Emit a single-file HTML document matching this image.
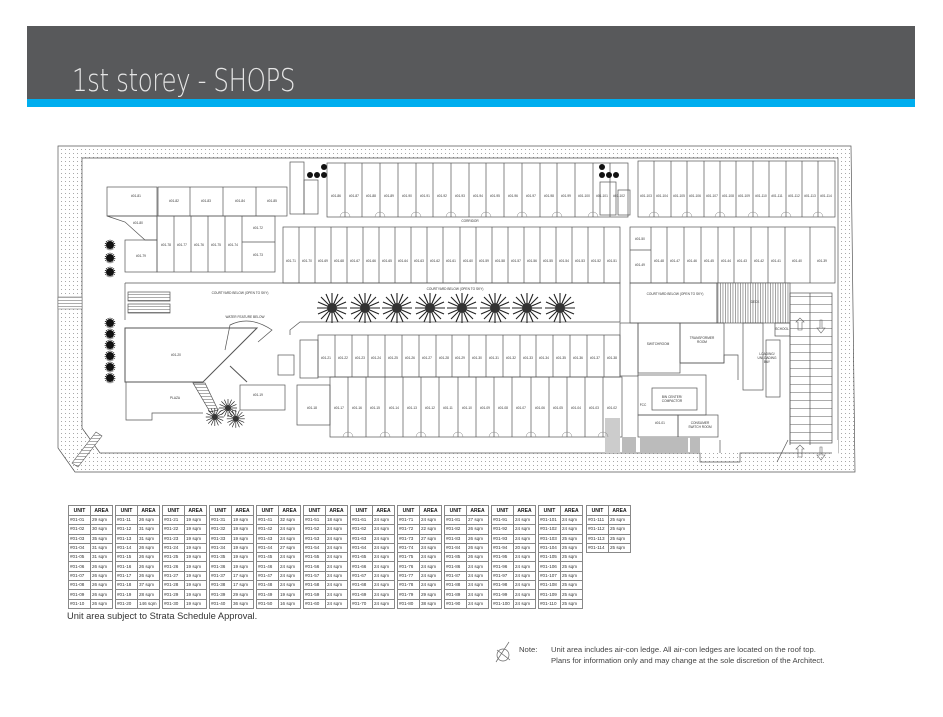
<!DOCTYPE html>
<html><head><meta charset="utf-8">
<style>
html,body{margin:0;padding:0;background:#fff;}
body{width:943px;height:717px;position:relative;overflow:hidden;font-family:"Liberation Sans",sans-serif;}
#hdr{position:absolute;left:27px;top:26px;width:888px;height:73px;background:#58595b;}
#blue{position:absolute;left:27px;top:99px;width:888px;height:8px;background:#00aeef;}
#title{position:absolute;left:72px;top:63px;color:#e6e6e6;font-size:31px;letter-spacing:-0.5px;font-family:"DejaVu Sans","Liberation Sans",sans-serif;transform:scaleX(0.79);transform-origin:left;font-weight:200;white-space:nowrap;}
table.t{position:absolute;top:505px;border-collapse:collapse;font-size:4.6px;color:#333;}
table.t td{border:0.6px solid #888;height:8.3px;padding:0 1px;width:19px;white-space:nowrap;line-height:8px;}
table.t tr:first-child td{font-weight:bold;height:9px;text-align:center;color:#111;font-size:5px;}
#sub{position:absolute;left:67px;top:611px;font-size:9.3px;color:#333;}
#note{position:absolute;left:519px;top:644px;font-size:7.7px;color:#444;line-height:11px;}
#note span{position:absolute;left:32px;white-space:nowrap;}
svg{position:absolute;left:0;top:0;}
svg text{font-family:"Liberation Sans",sans-serif;fill:#333;}
</style></head><body>
<div id="hdr"></div><div id="blue"></div>
<div id="title">1st storey - SHOPS</div>

<svg width="943" height="717" viewBox="0 0 943 717">
<defs>
<pattern id="dots" width="4" height="4" patternUnits="userSpaceOnUse"><rect x="1" y="1" width="0.8" height="0.8" fill="#777"/></pattern>
<pattern id="hatch" width="2.5" height="4" patternUnits="userSpaceOnUse"><rect width="2.5" height="4" fill="#fff"/><rect x="0" width="0.9" height="4" fill="#999"/></pattern>
<pattern id="stairs" width="4" height="3" patternUnits="userSpaceOnUse"><rect width="4" height="3" fill="#fff"/><rect y="0" width="4" height="0.6" fill="#777"/></pattern>
<pattern id="ramp" width="10" height="8" patternUnits="userSpaceOnUse"><rect width="10" height="8" fill="#fff"/><rect y="0" width="10" height="0.7" fill="#888"/></pattern>
<g id="tree"><g stroke="#222" stroke-width="1.1">
<line x1="-15" y1="0" x2="15" y2="0"/><line x1="0" y1="-15" x2="0" y2="15"/><line x1="-11" y1="-11" x2="11" y2="11"/><line x1="-11" y1="11" x2="11" y2="-11"/>
<line x1="-14" y1="-6" x2="14" y2="6"/><line x1="-14" y1="6" x2="14" y2="-6"/><line x1="-6" y1="-14" x2="6" y2="14"/><line x1="6" y1="-14" x2="-6" y2="14"/></g>
<circle r="5" fill="#333"/></g>
<g id="shrub"><circle r="4" fill="#111"/><circle r="4.8" fill="none" stroke="#111" stroke-dasharray="1 1"/></g>
</defs>

<path d="M58,146 L851,146 L855,472 L75,472 L58,448 Z M82,158 L838,158 L838,453 L740,453 L740,462 L700,462 L700,453 L100,453 L82,428 Z" fill="url(#dots)" fill-rule="evenodd" stroke="#555" stroke-width="0.7"/>
<rect x="700" y="453" width="40" height="19" fill="url(#dots)"/>
<rect x="832" y="440" width="6" height="20" fill="#fff"/>
<rect x="58" y="297" width="24" height="12" fill="url(#stairs)" stroke="#666" stroke-width="0.5"/>
<polygon points="72,463 78,467 102,436 96,432" fill="url(#stairs)" stroke="#555" stroke-width="0.6"/>

<g fill="none" stroke="#555" stroke-width="0.7">
<rect x="327" y="163" width="301" height="54"/>
<path d="M345,163V217M362,163V217M380,163V217M398,163V217M416,163V217M433,163V217M451,163V217M469,163V217M486,163V217M504,163V217M522,163V217M540,163V217M557,163V217M575,163V217M593,163V217M610,163V217"/>
<rect x="638" y="161" width="197" height="56"/>
<path d="M654,161V217M671,161V217M687,161V217M704,161V217M720,161V217M736,161V217M753,161V217M769,161V217M786,161V217M802,161V217M818,161V217"/>
<rect x="283" y="227" width="337" height="56"/>
<path d="M299,227V283M315,227V283M331,227V283M347,227V283M363,227V283M379,227V283M395,227V283M411,227V283M427,227V283M443,227V283M460,227V283M476,227V283M492,227V283M508,227V283M524,227V283M540,227V283M556,227V283M572,227V283M588,227V283M604,227V283"/>
<rect x="630" y="227" width="205" height="56"/>
<path d="M651,227V283M630,250H651M667,227V283M684,227V283M701,227V283M718,227V283M734,227V283M751,227V283M768,227V283M785,227V283M810,227V283"/>
<rect x="318" y="335" width="302" height="42"/>
<path d="M335,335V377M352,335V377M368,335V377M385,335V377M402,335V377M419,335V377M436,335V377M452,335V377M469,335V377M486,335V377M503,335V377M520,335V377M536,335V377M553,335V377M570,335V377M587,335V377M604,335V377"/>
<rect x="330" y="377" width="292" height="60"/>
<path d="M348,377V437M366,377V437M385,377V437M403,377V437M421,377V437M439,377V437M458,377V437M476,377V437M494,377V437M512,377V437M531,377V437M549,377V437M567,377V437M585,377V437M603,377V437"/>
<rect x="297" y="385" width="33" height="40"/>
<path d="M125,283H620V322H300L290,330V335" />
<path d="M125,283V320"/>
<rect x="630" y="283" width="87" height="40"/>
<rect x="717" y="283" width="73" height="40" fill="url(#hatch)"/>
<rect x="107" y="187" width="50" height="29"/>
<rect x="158" y="187" width="129" height="29"/>
<path d="M190,187V216M223,187V216M256,187V216"/>
<path d="M107,216H157V240H145L125,222Z"/>
<rect x="125" y="240" width="32" height="32"/>
<rect x="157" y="216" width="118" height="56"/>
<path d="M174,216V272M191,216V272M208,216V272M225,216V272M242,216V272M242,242H275"/>
<polygon points="125,328 257,328 203,382 125,382" stroke-width="1"/>
<path d="M230,366 L247,382" stroke-width="1"/>
<path d="M225,350 L230,325 Q250,315 272,330 L258,342" />
<rect x="128" y="292" width="42" height="9" fill="url(#stairs)"/>
<rect x="128" y="304" width="42" height="9" fill="url(#stairs)"/>
<path d="M126,382V420H152V413H203"/>
<rect x="240" y="385" width="45" height="25"/>
<polygon points="193,383 205,383 218,410 210,412" fill="url(#stairs)"/>
<rect x="290" y="162" width="14" height="52"/>
<rect x="304" y="180" width="14" height="34"/>
<rect x="600" y="182" width="16" height="33"/>
<rect x="618" y="190" width="12" height="25"/>
<rect x="300" y="340" width="18" height="38"/>
<rect x="278" y="355" width="16" height="20"/>
<rect x="620" y="323" width="18" height="53"/>
<rect x="638" y="323" width="42" height="50"/>
<rect x="680" y="323" width="44" height="40"/>
<path d="M680,363H724V355H738V380"/>
<rect x="743" y="323" width="20" height="67"/>
<rect x="766" y="340" width="14" height="57"/>
<rect x="652" y="388" width="45" height="22"/>
<rect x="638" y="375" width="68" height="40"/>
<rect x="638" y="415" width="40" height="22"/>
<rect x="678" y="415" width="40" height="22"/>
<rect x="775" y="323" width="15" height="13"/>
<rect x="790" y="293" width="42" height="150" fill="url(#ramp)"/>
<path d="M790,293V445M810,293V445"/>
<path d="M788,440 L777,462" />
<path d="M720,440V453"/>
</g>
<rect x="622" y="437" width="14" height="16" fill="#bbb"/>
<rect x="640" y="437" width="48" height="16" fill="#bbb"/>
<rect x="690" y="437" width="10" height="16" fill="#bbb"/>
<rect x="605" y="418" width="15" height="35" fill="#ccc"/>

<use href="#tree" x="332" y="308"/><use href="#tree" x="365" y="308"/><use href="#tree" x="397" y="308"/><use href="#tree" x="430" y="308"/>
<use href="#tree" x="462" y="308"/><use href="#tree" x="495" y="308"/><use href="#tree" x="527" y="308"/><use href="#tree" x="560" y="308"/>
<g transform="scale(0.6)"><use href="#tree" x="358" y="695"/><use href="#tree" x="380" y="680"/><use href="#tree" x="393" y="698"/></g>
<use href="#shrub" x="110" y="245"/><use href="#shrub" x="110" y="258"/><use href="#shrub" x="110" y="272"/>
<use href="#shrub" x="110" y="323"/><use href="#shrub" x="110" y="334"/><use href="#shrub" x="110" y="345"/><use href="#shrub" x="110" y="356"/><use href="#shrub" x="110" y="367"/><use href="#shrub" x="110" y="378"/>
<circle cx="310" cy="175" r="3" fill="#111"/><circle cx="317" cy="175" r="3" fill="#111"/><circle cx="324" cy="175" r="3" fill="#111"/><circle cx="324" cy="167" r="3" fill="#111"/>
<circle cx="602" cy="175" r="3" fill="#111"/><circle cx="609" cy="175" r="3" fill="#111"/><circle cx="616" cy="175" r="3" fill="#111"/><circle cx="602" cy="167" r="3" fill="#111"/>

<g font-size="3.2" text-anchor="middle">
<text x="336" y="197">#01-86</text><text x="354" y="197">#01-87</text><text x="371" y="197">#01-88</text><text x="389" y="197">#01-89</text><text x="407" y="197">#01-90</text><text x="425" y="197">#01-91</text><text x="442" y="197">#01-92</text><text x="460" y="197">#01-93</text><text x="478" y="197">#01-94</text><text x="495" y="197">#01-95</text><text x="513" y="197">#01-96</text><text x="531" y="197">#01-97</text><text x="549" y="197">#01-98</text><text x="566" y="197">#01-99</text><text x="584" y="197">#01-100</text><text x="602" y="197">#01-101</text><text x="619" y="197">#01-102</text>
<text x="646" y="197">#01-103</text><text x="662" y="197">#01-104</text><text x="679" y="197">#01-105</text><text x="695" y="197">#01-106</text><text x="712" y="197">#01-107</text><text x="728" y="197">#01-108</text><text x="744" y="197">#01-109</text><text x="761" y="197">#01-110</text><text x="777" y="197">#01-111</text><text x="794" y="197">#01-112</text><text x="810" y="197">#01-113</text><text x="826" y="197">#01-114</text>
<text x="291" y="262">#01-71</text><text x="307" y="262">#01-70</text><text x="323" y="262">#01-69</text><text x="339" y="262">#01-68</text><text x="355" y="262">#01-67</text><text x="371" y="262">#01-66</text><text x="387" y="262">#01-65</text><text x="403" y="262">#01-64</text><text x="419" y="262">#01-63</text><text x="435" y="262">#01-62</text><text x="451" y="262">#01-61</text><text x="468" y="262">#01-60</text><text x="484" y="262">#01-59</text><text x="500" y="262">#01-58</text><text x="516" y="262">#01-57</text><text x="532" y="262">#01-56</text><text x="548" y="262">#01-55</text><text x="564" y="262">#01-54</text><text x="580" y="262">#01-53</text><text x="596" y="262">#01-52</text><text x="612" y="262">#01-51</text>
<text x="640" y="240">#01-50</text><text x="640" y="266">#01-49</text>
<text x="659" y="262">#01-48</text><text x="675" y="262">#01-47</text><text x="692" y="262">#01-46</text><text x="709" y="262">#01-45</text><text x="726" y="262">#01-44</text><text x="742" y="262">#01-43</text><text x="759" y="262">#01-42</text><text x="776" y="262">#01-41</text><text x="797" y="262">#01-40</text><text x="822" y="262">#01-39</text>
<text x="326" y="359">#01-21</text><text x="343" y="359">#01-22</text><text x="360" y="359">#01-23</text><text x="376" y="359">#01-24</text><text x="393" y="359">#01-25</text><text x="410" y="359">#01-26</text><text x="427" y="359">#01-27</text><text x="444" y="359">#01-28</text><text x="460" y="359">#01-29</text><text x="477" y="359">#01-30</text><text x="494" y="359">#01-31</text><text x="511" y="359">#01-32</text><text x="528" y="359">#01-33</text><text x="544" y="359">#01-34</text><text x="561" y="359">#01-35</text><text x="578" y="359">#01-36</text><text x="595" y="359">#01-37</text><text x="612" y="359">#01-38</text>
<text x="312" y="409">#01-18</text><text x="339" y="409">#01-17</text><text x="357" y="409">#01-16</text><text x="375" y="409">#01-15</text><text x="394" y="409">#01-14</text><text x="412" y="409">#01-13</text><text x="430" y="409">#01-12</text><text x="448" y="409">#01-11</text><text x="467" y="409">#01-10</text><text x="485" y="409">#01-09</text><text x="503" y="409">#01-08</text><text x="521" y="409">#01-07</text><text x="540" y="409">#01-06</text><text x="558" y="409">#01-05</text><text x="576" y="409">#01-04</text><text x="594" y="409">#01-03</text><text x="612" y="409">#01-02</text>
<text x="136" y="197">#01-81</text><text x="174" y="202">#01-82</text><text x="206" y="202">#01-83</text><text x="240" y="202">#01-84</text><text x="272" y="202">#01-85</text>
<text x="138" y="224">#01-80</text><text x="141" y="257">#01-79</text>
<text x="166" y="246">#01-78</text><text x="182" y="246">#01-77</text><text x="199" y="246">#01-76</text><text x="216" y="246">#01-75</text><text x="233" y="246">#01-74</text><text x="258" y="229">#01-72</text><text x="258" y="256">#01-73</text>
<text x="176" y="356">#01-20</text><text x="258" y="396">#01-19</text><text x="175" y="399">PLAZA</text>
<text x="240" y="294">COURTYARD BELOW (OPEN TO SKY)</text><text x="245" y="318">WATER FEATURE BELOW</text>
<text x="455" y="290">COURTYARD BELOW (OPEN TO SKY)</text><text x="675" y="295">COURTYARD BELOW (OPEN TO SKY)</text>
<text x="755" y="303">DECK</text><text x="470" y="222">CORRIDOR</text>
<text x="658" y="345">SWITCHROOM</text><text x="702" y="339">TRANSFORMER</text><text x="702" y="343">ROOM</text>
<text x="672" y="398">BIN CENTER/</text><text x="672" y="402">COMPACTOR</text><text x="643" y="406">FCC</text>
<text x="660" y="424">#01-01</text><text x="700" y="424">CONSUMER</text><text x="700" y="428">SWITCH ROOM</text>
<text x="767" y="355">LOADING/</text><text x="767" y="359">UNLOADING</text><text x="767" y="363">BAY</text><text x="782" y="330">SCHOOL</text>
</g>
<g stroke="#666" stroke-width="0.6" fill="none">
<path d="M800,318l-4,4h2v8h4v-8h2z"/><path d="M820,320v8h-3l4,5l4,-5h-3v-8z"/>
<path d="M800,445l-4,4h2v8h4v-8h2z"/><path d="M820,447v8h-3l4,5l4,-5h-3v-8z"/>
</g>
<g stroke="#888" stroke-width="0.5" fill="none">
<path d="M340,217a5,5 0 0 1 10,0M375,217a5,5 0 0 1 10,0M411,217a5,5 0 0 1 10,0M446,217a5,5 0 0 1 10,0M481,217a5,5 0 0 1 10,0M517,217a5,5 0 0 1 10,0M552,217a5,5 0 0 1 10,0M588,217a5,5 0 0 1 10,0"/>
<path d="M649,217a5,5 0 0 1 10,0M682,217a5,5 0 0 1 10,0M715,217a5,5 0 0 1 10,0M748,217a5,5 0 0 1 10,0M781,217a5,5 0 0 1 10,0M813,217a5,5 0 0 1 10,0"/>
<path d="M343,437a5,5 0 0 1 10,0M380,437a5,5 0 0 1 10,0M416,437a5,5 0 0 1 10,0M453,437a5,5 0 0 1 10,0M489,437a5,5 0 0 1 10,0M526,437a5,5 0 0 1 10,0M562,437a5,5 0 0 1 10,0M598,437a5,5 0 0 1 10,0"/>
</g>
<g stroke="#666" stroke-width="0.7" fill="none"><circle cx="503" cy="655" r="6"/><line x1="496" y1="662" x2="509" y2="642"/><line x1="497" y1="650" x2="510" y2="660"/></g>
</svg>

<table class="t" style="left:68px"><tr><td>UNIT</td><td>AREA</td></tr>
<tr><td>#01-01</td><td>29 sqm</td></tr><tr><td>#01-02</td><td>30 sqm</td></tr><tr><td>#01-03</td><td>35 sqm</td></tr><tr><td>#01-04</td><td>31 sqm</td></tr><tr><td>#01-05</td><td>31 sqm</td></tr><tr><td>#01-06</td><td>26 sqm</td></tr><tr><td>#01-07</td><td>26 sqm</td></tr><tr><td>#01-08</td><td>26 sqm</td></tr><tr><td>#01-09</td><td>26 sqm</td></tr><tr><td>#01-10</td><td>26 sqm</td></tr></table>
<table class="t" style="left:115px"><tr><td>UNIT</td><td>AREA</td></tr>
<tr><td>#01-11</td><td>26 sqm</td></tr><tr><td>#01-12</td><td>31 sqm</td></tr><tr><td>#01-13</td><td>31 sqm</td></tr><tr><td>#01-14</td><td>26 sqm</td></tr><tr><td>#01-15</td><td>26 sqm</td></tr><tr><td>#01-16</td><td>26 sqm</td></tr><tr><td>#01-17</td><td>26 sqm</td></tr><tr><td>#01-18</td><td>37 sqm</td></tr><tr><td>#01-19</td><td>28 sqm</td></tr><tr><td>#01-20</td><td>146 sqm</td></tr></table>
<table class="t" style="left:162px"><tr><td>UNIT</td><td>AREA</td></tr>
<tr><td>#01-21</td><td>19 sqm</td></tr><tr><td>#01-22</td><td>19 sqm</td></tr><tr><td>#01-23</td><td>19 sqm</td></tr><tr><td>#01-24</td><td>19 sqm</td></tr><tr><td>#01-25</td><td>19 sqm</td></tr><tr><td>#01-26</td><td>19 sqm</td></tr><tr><td>#01-27</td><td>19 sqm</td></tr><tr><td>#01-28</td><td>19 sqm</td></tr><tr><td>#01-29</td><td>19 sqm</td></tr><tr><td>#01-30</td><td>19 sqm</td></tr></table>
<table class="t" style="left:209px"><tr><td>UNIT</td><td>AREA</td></tr>
<tr><td>#01-31</td><td>19 sqm</td></tr><tr><td>#01-32</td><td>19 sqm</td></tr><tr><td>#01-33</td><td>19 sqm</td></tr><tr><td>#01-34</td><td>19 sqm</td></tr><tr><td>#01-35</td><td>19 sqm</td></tr><tr><td>#01-36</td><td>19 sqm</td></tr><tr><td>#01-37</td><td>17 sqm</td></tr><tr><td>#01-38</td><td>17 sqm</td></tr><tr><td>#01-39</td><td>29 sqm</td></tr><tr><td>#01-40</td><td>36 sqm</td></tr></table>
<table class="t" style="left:256px"><tr><td>UNIT</td><td>AREA</td></tr>
<tr><td>#01-41</td><td>32 sqm</td></tr><tr><td>#01-42</td><td>24 sqm</td></tr><tr><td>#01-43</td><td>24 sqm</td></tr><tr><td>#01-44</td><td>27 sqm</td></tr><tr><td>#01-45</td><td>24 sqm</td></tr><tr><td>#01-46</td><td>24 sqm</td></tr><tr><td>#01-47</td><td>24 sqm</td></tr><tr><td>#01-48</td><td>24 sqm</td></tr><tr><td>#01-49</td><td>19 sqm</td></tr><tr><td>#01-50</td><td>16 sqm</td></tr></table>
<table class="t" style="left:303px"><tr><td>UNIT</td><td>AREA</td></tr>
<tr><td>#01-51</td><td>18 sqm</td></tr><tr><td>#01-52</td><td>24 sqm</td></tr><tr><td>#01-53</td><td>24 sqm</td></tr><tr><td>#01-54</td><td>24 sqm</td></tr><tr><td>#01-55</td><td>24 sqm</td></tr><tr><td>#01-56</td><td>24 sqm</td></tr><tr><td>#01-57</td><td>24 sqm</td></tr><tr><td>#01-58</td><td>24 sqm</td></tr><tr><td>#01-59</td><td>24 sqm</td></tr><tr><td>#01-60</td><td>24 sqm</td></tr></table>
<table class="t" style="left:350px"><tr><td>UNIT</td><td>AREA</td></tr>
<tr><td>#01-61</td><td>24 sqm</td></tr><tr><td>#01-62</td><td>24 sqm</td></tr><tr><td>#01-63</td><td>24 sqm</td></tr><tr><td>#01-64</td><td>24 sqm</td></tr><tr><td>#01-65</td><td>24 sqm</td></tr><tr><td>#01-66</td><td>24 sqm</td></tr><tr><td>#01-67</td><td>24 sqm</td></tr><tr><td>#01-68</td><td>24 sqm</td></tr><tr><td>#01-69</td><td>24 sqm</td></tr><tr><td>#01-70</td><td>24 sqm</td></tr></table>
<table class="t" style="left:397px"><tr><td>UNIT</td><td>AREA</td></tr>
<tr><td>#01-71</td><td>24 sqm</td></tr><tr><td>#01-72</td><td>22 sqm</td></tr><tr><td>#01-73</td><td>27 sqm</td></tr><tr><td>#01-74</td><td>24 sqm</td></tr><tr><td>#01-75</td><td>24 sqm</td></tr><tr><td>#01-76</td><td>24 sqm</td></tr><tr><td>#01-77</td><td>24 sqm</td></tr><tr><td>#01-78</td><td>24 sqm</td></tr><tr><td>#01-79</td><td>29 sqm</td></tr><tr><td>#01-80</td><td>38 sqm</td></tr></table>
<table class="t" style="left:444px"><tr><td>UNIT</td><td>AREA</td></tr>
<tr><td>#01-81</td><td>27 sqm</td></tr><tr><td>#01-82</td><td>26 sqm</td></tr><tr><td>#01-83</td><td>26 sqm</td></tr><tr><td>#01-84</td><td>26 sqm</td></tr><tr><td>#01-85</td><td>26 sqm</td></tr><tr><td>#01-86</td><td>24 sqm</td></tr><tr><td>#01-87</td><td>24 sqm</td></tr><tr><td>#01-88</td><td>24 sqm</td></tr><tr><td>#01-89</td><td>24 sqm</td></tr><tr><td>#01-90</td><td>24 sqm</td></tr></table>
<table class="t" style="left:491px"><tr><td>UNIT</td><td>AREA</td></tr>
<tr><td>#01-91</td><td>24 sqm</td></tr><tr><td>#01-92</td><td>24 sqm</td></tr><tr><td>#01-93</td><td>24 sqm</td></tr><tr><td>#01-94</td><td>20 sqm</td></tr><tr><td>#01-95</td><td>24 sqm</td></tr><tr><td>#01-96</td><td>24 sqm</td></tr><tr><td>#01-97</td><td>24 sqm</td></tr><tr><td>#01-98</td><td>24 sqm</td></tr><tr><td>#01-99</td><td>24 sqm</td></tr><tr><td>#01-100</td><td>24 sqm</td></tr></table>
<table class="t" style="left:538px"><tr><td>UNIT</td><td>AREA</td></tr>
<tr><td>#01-101</td><td>24 sqm</td></tr><tr><td>#01-102</td><td>24 sqm</td></tr><tr><td>#01-103</td><td>25 sqm</td></tr><tr><td>#01-104</td><td>25 sqm</td></tr><tr><td>#01-105</td><td>25 sqm</td></tr><tr><td>#01-106</td><td>25 sqm</td></tr><tr><td>#01-107</td><td>25 sqm</td></tr><tr><td>#01-108</td><td>25 sqm</td></tr><tr><td>#01-109</td><td>25 sqm</td></tr><tr><td>#01-110</td><td>25 sqm</td></tr></table>
<table class="t" style="left:586px"><tr><td>UNIT</td><td>AREA</td></tr>
<tr><td>#01-111</td><td>25 sqm</td></tr><tr><td>#01-112</td><td>25 sqm</td></tr><tr><td>#01-113</td><td>25 sqm</td></tr><tr><td>#01-114</td><td>25 sqm</td></tr></table>

<div id="sub">Unit area subject to Strata Schedule Approval.</div>
<div id="note">Note:<span style="top:0">Unit area includes air-con ledge. All air-con ledges are located on the roof top.</span><span style="top:11px">Plans for information only and may change at the sole discretion of the Architect.</span></div>
</body></html>
